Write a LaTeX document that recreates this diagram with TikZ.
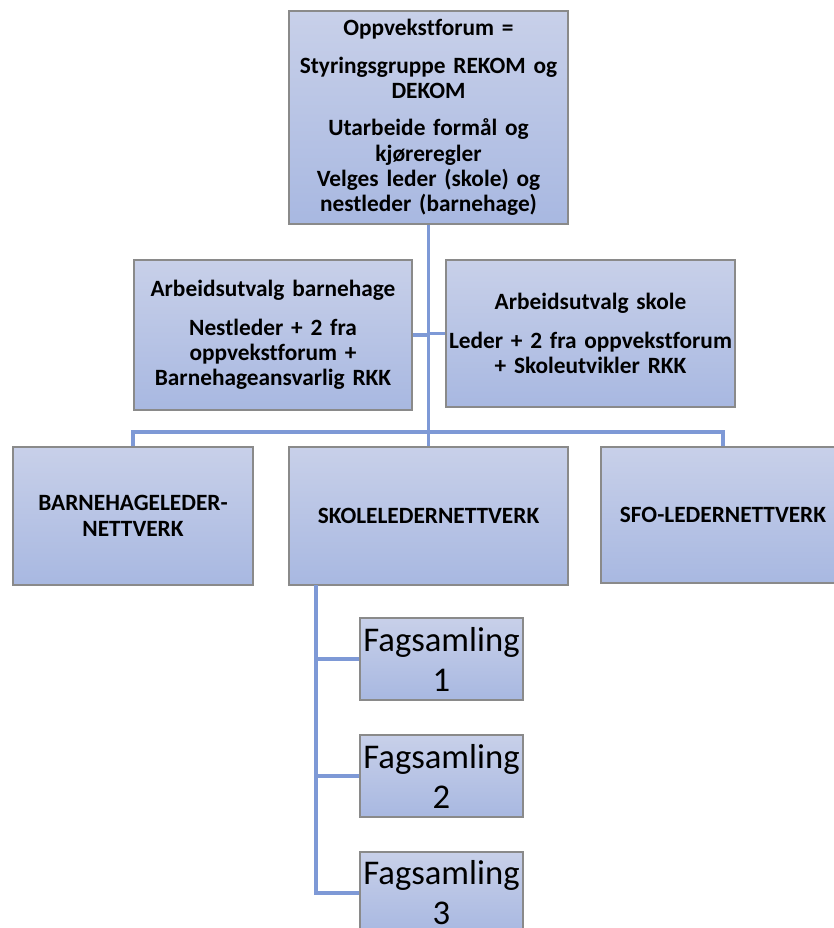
\documentclass[tikz,border=0pt]{standalone}
\usepackage{fontspec}
\setmainfont[Ligatures=NoCommon]{Carlito}
\definecolor{boxtop}{HTML}{C8D0E9}
\definecolor{boxbot}{HTML}{A8B8E1}
\definecolor{boxline}{HTML}{8A8A8A}
\definecolor{conn}{HTML}{7E99D6}
\newlength{\px}\setlength{\px}{0.75pt}
\tikzset{
  orgbox/.style={draw=boxline, line width=1pt, top color=boxtop, bottom color=boxbot,
    inner sep=0pt, align=center, font=\bfseries\fontsize{17.5}{19}\selectfont},
  fagbox/.style={orgbox, font=\fontsize{26}{30}\selectfont},
  conline/.style={draw=conn, line width=2.5pt}
}
\begin{document}
\begin{tikzpicture}[x=0.75pt,y=-0.75pt]
\useasboundingbox (0,0) rectangle (834,928);
\clip (0,0) rectangle (834,928);
\fill[white] (0,0) rectangle (834,928);
\coordinate (bus) at (428.5,432);
\coordinate (spine) at (316,585);
\node[orgbox, minimum width=279\px, minimum height=213\px, text width=275\px] (top) at (428.5,117.5)
 {Oppvekstforum =\\[12\px]Styringsgruppe REKOM og\\DEKOM\\[12\px]Utarbeide formål og\\kjøreregler\\Velges leder (skole) og\\nestleder (barnehage)};
\node[orgbox, minimum width=278\px, minimum height=150\px, text width=276\px] (aub) at (273,335)
 {Arbeidsutvalg barnehage\\[13\px]Nestleder + 2 fra\\oppvekstforum +\\Barnehageansvarlig RKK};
\node[orgbox, minimum width=289\px, minimum height=147\px, text width=287\px] (aus) at (590.5,333.5)
 {Arbeidsutvalg skole\\[13\px]Leder + 2 fra oppvekstforum\\+ Skoleutvikler RKK};
\node[orgbox, minimum width=240\px, minimum height=138\px, text width=236\px] (bnh) at (133,516)
 {BARNEHAGELEDER-\\NETTVERK\\[22\px]};
\node[orgbox, minimum width=279\px, minimum height=138\px, text width=275\px] (sko) at (428.5,516)
 {SKOLELEDERNETTVERK\\[6\px]};
\node[orgbox, minimum width=244\px, minimum height=136\px, text width=240\px] (sfo) at (723,515)
 {SFO-LEDERNETTVERK\\[6\px]};
\node[fagbox, minimum width=163\px, minimum height=82\px, text width=162\px] (f1) at (441.5,659) {Fagsamling\\1};
\node[fagbox, minimum width=163\px, minimum height=82\px, text width=162\px] (f2) at (441.5,776) {Fagsamling\\2};
\node[fagbox, minimum width=163\px, minimum height=82\px, text width=162\px] (f3) at (441.5,893) {Fagsamling\\3};
\draw[conline] (top.south) -- (bus);
\draw[conline] (bnh.north) |- (bus) -| (sfo.north);
\draw[conline] (bus) -- (sko.north);
\draw[conline] (aub.east) -- (aub.east -| bus);
\draw[conline] (aus.west) -- (aus.west -| bus);
\draw[conline] (spine) |- (f3.west);
\draw[conline] (spine |- f1.west) -- (f1.west);
\draw[conline] (spine |- f2.west) -- (f2.west);
\end{tikzpicture}
\end{document}
